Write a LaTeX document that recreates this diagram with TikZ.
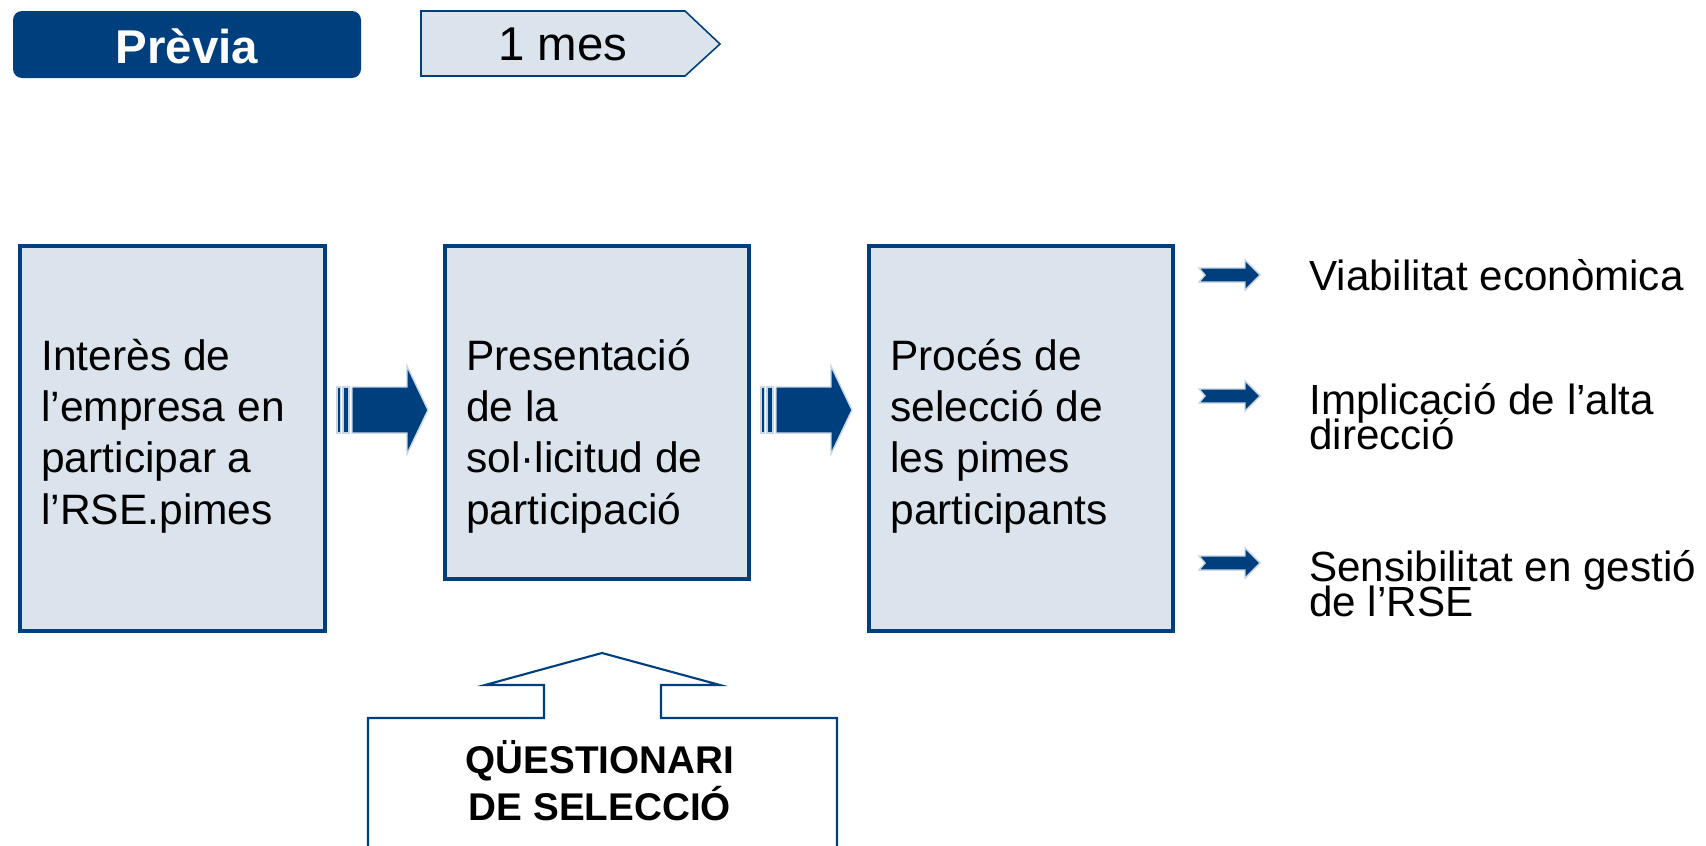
\documentclass[tikz,border=0pt]{standalone}
\usepackage{fontspec}
\setmainfont{Liberation Sans}
\definecolor{dblue}{RGB}{0,63,125}
\definecolor{lfill}{RGB}{219,228,237}
\definecolor{lglow}{RGB}{200,214,228}
\newcommand\tightlns{\lineskiplimit=-20pt\relax\lineskip=0pt\relax}
\tikzset{
  stagebox/.style={draw=dblue, line width=2.2pt, fill=lfill, inner sep=0pt, anchor=north west},
  boxtext/.style={inner sep=0pt, anchor=west, align=left, font=\fontsize{24.2}{29.2}\selectfont},
  sidetext/.style={inner sep=0pt, anchor=west, align=left, font=\fontsize{24}{19.9}\selectfont\tightlns},
  arrowfill/.style={fill=dblue, draw=lglow, line width=0.8pt},
  pics/bigarrow/.style={code={
    \path[arrowfill] (0,-23) rectangle (3.5,23);
    \path[arrowfill] (6,-23) rectangle (12,23);
    \path[arrowfill] (15,-23) -- (70,-23) -- (70,-44) -- (91,0) -- (70,44) -- (70,23) -- (15,23) -- cycle;
  }},
  pics/smallarrow/.style={code={
    \path[arrowfill] (0,-7) -- (46,-7) -- (46,-15) -- (61,0) -- (46,15) -- (46,7) -- (0,7) -- (6,0) -- cycle;
  }}
}
\begin{document}
\begin{tikzpicture}[x=0.02cm, y=-0.02cm]
\useasboundingbox (0,0) rectangle (1706,845);
\begin{scope}
\clip (0,0) rectangle (1706,845);
% header
\node[fill=dblue, rounded corners=0.18cm, minimum width=348*0.02cm, minimum height=67*0.02cm, inner sep=0pt] (previa) at (187,44.5) {};
\node[text=white, font=\fontsize{27}{30}\selectfont\bfseries, inner sep=0pt] (previat) at (187,46) {Prèvia};
\draw[dblue, line width=0.9pt, fill=lfill] (421,11) -- (685,11) -- (720,44) -- (685,76) -- (421,76) -- cycle;
\node[font=\fontsize{27}{30}\selectfont, inner sep=0pt] (mest) at (563,44) {1 mes};
% stage boxes
\node[stagebox, minimum width=305*0.02cm, minimum height=385*0.02cm] (b1) at (18,244) {};
\node[stagebox, minimum width=304*0.02cm, minimum height=333*0.02cm] (b2) at (443,244) {};
\node[stagebox, minimum width=304*0.02cm, minimum height=385*0.02cm] (b3) at (867,244) {};
\node[boxtext] (t1) at (41,436) {Interès de\\l’empresa en\\participar a\\l’RSE.pimes};
\node[boxtext] (t2) at (466,436) {Presentació\\de la\\sol·licitud de\\participació};
\node[boxtext] (t3) at (890,436) {Procés de\\selecció de\\les pimes\\participants};
% block arrows
\pic at (337,410) {bigarrow};
\pic at (761,410) {bigarrow};
% small arrows and criteria
\pic at (1199,275) {smallarrow};
\pic at (1199,396) {smallarrow};
\pic at (1199,563) {smallarrow};
\node[sidetext] (c1) at (1309,275) {Viabilitat econòmica};
\node[sidetext] (c2) at (1309,417) {Implicació de l’alta\\direcció};
\node[sidetext] (c3) at (1309,584) {Sensibilitat en gestió\\de l’RSE};
% callout
\draw[dblue, line width=1.2pt, fill=white] (368,870) -- (368,718) -- (544,718) -- (544,685) -- (485,685) -- (602,653) -- (720,685) -- (661,685) -- (661,718) -- (837,718) -- (837,870);
\node[align=center, inner sep=0pt, font=\fontsize{22}{26.6}\selectfont\bfseries] (q) at (600,781) {QÜESTIONARI\\DE SELECCIÓ};
\end{scope}
\end{tikzpicture}
\end{document}
